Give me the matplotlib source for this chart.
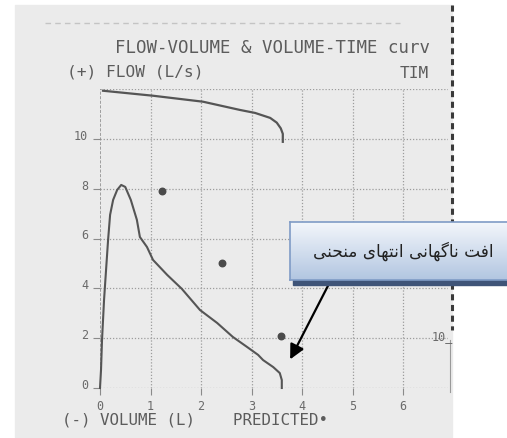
import numpy as np
import matplotlib
matplotlib.use("Agg")
import matplotlib.pyplot as plt
import matplotlib.transforms as mtransforms
from matplotlib.patches import Rectangle
from matplotlib.colors import LinearSegmentedColormap

# flow-volume loop (expiratory part)
fv_volume = [0, 0.02, 0.04, 0.08, 0.12, 0.16, 0.20, 0.26, 0.34, 0.42, 0.50, 0.61,
             0.73, 0.79, 0.93, 1.05, 1.33, 1.62, 1.98, 2.32, 2.63, 2.91, 3.13,
             3.23, 3.43, 3.56, 3.60, 3.60]
fv_flow = [0, 0.72, 1.93, 3.53, 4.74, 5.94, 6.95, 7.55, 7.95, 8.15, 8.07, 7.55,
           6.75, 6.06, 5.66, 5.14, 4.54, 3.98, 3.13, 2.61, 2.05, 1.65, 1.33,
           1.12, 0.84, 0.60, 0.32, 0]

# volume-time trace printed on the same grid
vt_x = [0.06, 1.05, 2.04, 2.77, 3.07, 3.37, 3.50, 3.58, 3.62, 3.62]
vt_y = [11.93, 11.73, 11.49, 11.16, 11.04, 10.84, 10.65, 10.42, 10.20, 9.88]

# predicted values
pred_volume = [1.23, 2.42, 3.58]
pred_flow = [7.9, 5.0, 2.1]

x_ticks = [0, 1, 2, 3, 4, 5, 6]
y_ticks = [0, 2, 4, 6, 8, 10]

# "افت ناگهانی انتهای منحنی" in presentation forms, visual (left-to-right) order
note = ("\uFBFD\uFEE8\uFEA4\uFEE8\uFEE3 "
        "\uFBFC\uFE8E\uFEEC\uFE98\uFEE7\uFE8D "
        "\uFBFD\uFEE7\uFE8E\uFEEC\uFB94\uFE8E\uFEE7 "
        "\uFE96\uFED3\uFE8D")

W, H = 507, 438
fig = plt.figure(figsize=(W / 100, H / 100), dpi=100)
fig.patch.set_facecolor("white")


def fx(px):
    return px / W


def fy(py):
    return 1 - py / H


# scanned page
fig.patches.append(Rectangle((fx(15), fy(437)), fx(452) - fx(15), fy(5) - fy(437),
                             transform=fig.transFigure, color="#ebebeb", zorder=-5))
fig.add_artist(plt.Line2D([fx(452), fx(452)], [fy(5), fy(330)], color="#3a3a3a",
                          lw=2.2, ls=(0, (2, 1.5)), zorder=-4))
fig.add_artist(plt.Line2D([fx(45), fx(400)], [fy(23), fy(23)], color="#c4c4c4",
                          lw=1, ls=(0, (4, 3)), zorder=-4))
fig.add_artist(plt.Line2D([fx(450), fx(450)], [fy(340), fy(392)], color="#9a9a9a",
                          lw=0.8, zorder=-4))

ax = fig.add_axes([fx(100), fy(388), 6.9 * 50.5 / W, 299 / H])
ax.patch.set_visible(False)
ax.set_xlim(0, 6.9)
ax.set_ylim(0, 12)
for s in ax.spines.values():
    s.set_visible(False)

grid_kw = dict(color="#9c9c9c", lw=0.9, ls=(0, (1, 1.5)), zorder=1)
for yv in y_ticks + [12]:
    ax.plot([0, 6.9], [yv, yv], **grid_kw)
for xv in x_ticks[1:]:
    ax.plot([xv, xv], [0, 12], **grid_kw)
ax.plot([0, 0], [0, 12], color="#8a8a8a", lw=1.1, ls=(0, (2, 1)), zorder=1)

ax.set_xticks(x_ticks)
ax.set_yticks(y_ticks)
mono = "DejaVu Sans Mono"
ax.tick_params(axis="both", colors="#8a8a8a", labelcolor="#6a6a6a", length=5, width=0.8,
               labelsize=8.5)
raise_up = mtransforms.ScaledTranslation(0, 3 / 72, fig.dpi_scale_trans)
for lab in ax.get_xticklabels():
    lab.set_family(mono)
for lab in ax.get_yticklabels():
    lab.set_family(mono)
    lab.set_transform(lab.get_transform() + raise_up)

ax.plot(fv_volume, fv_flow, color="#555555", lw=1.5, zorder=3, clip_on=False)
ax.plot(vt_x, vt_y, color="#555555", lw=1.6, zorder=3, clip_on=False)
ax.scatter(pred_volume, pred_flow, s=22, color="#4a4a4a", zorder=3)

txt = dict(family=mono, color="#5c5c5c", va="center", ha="left")
fig.text(fx(115), fy(48), "FLOW-VOLUME & VOLUME-TIME curv", size=12.5, **txt)
fig.text(fx(67), fy(72), "(+) FLOW (L/s)", size=11.6, **txt)
fig.text(fx(400), fy(73), "TIM", size=11.6, **txt)
fig.text(fx(62), fy(420), "(-) VOLUME (L)    PREDICTED\u2022", size=11.4, **txt)
fig.text(fx(432), fy(337), "10_", size=8.5, family=mono, color="#6a6a6a", va="center")

# callout box
fig.patches.append(Rectangle((fx(293), fy(285)), fx(520) - fx(293), fy(226) - fy(285),
                             transform=fig.transFigure, color="#3f5478", zorder=2))
bax = fig.add_axes([fx(290), fy(280), fx(520) - fx(290), fy(222) - fy(280)], zorder=3)
cmap = LinearSegmentedColormap.from_list("box", ["#f3f6fb", "#b2c6e1"])
bax.imshow(np.linspace(0, 1, 64).reshape(-1, 1), cmap=cmap, aspect="auto",
           extent=[0, 1, 0, 1])
bax.set_xticks([])
bax.set_yticks([])
for s in bax.spines.values():
    s.set_color("#7f9bc6")
    s.set_linewidth(1.2)
fig.text(fx(403), fy(251), note, family="DejaVu Sans", size=12.2, color="#222222",
         ha="center", va="center", zorder=4)

ax.annotate("", xy=(3.74, 1.05), xytext=(332, H - 278), textcoords="figure pixels",
            arrowprops=dict(arrowstyle="-|>", color="black", lw=1.6, mutation_scale=22),
            zorder=5)

fig.savefig("out.png", dpi=100)
